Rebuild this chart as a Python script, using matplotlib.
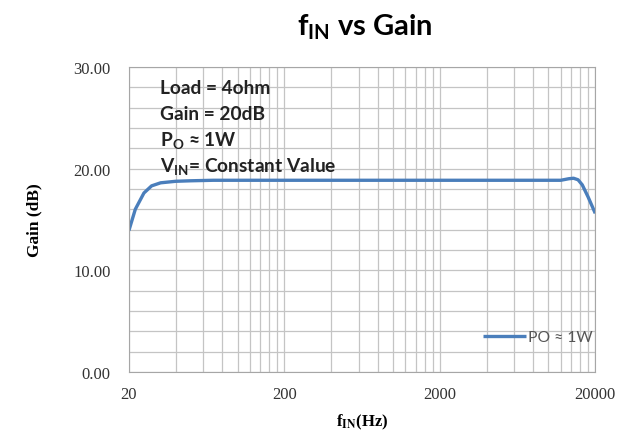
import matplotlib
matplotlib.use("Agg")
import matplotlib.pyplot as plt
from matplotlib.ticker import FixedLocator, NullFormatter

# data
freq = [20, 22, 25, 28, 32, 40, 50, 70, 100, 200, 500, 1000, 2000, 5000,
        10000, 12000, 13500, 14500, 15500, 16500, 18000, 20000]
gain = [13.9, 16.0, 17.6, 18.3, 18.6, 18.75, 18.8, 18.85, 18.85, 18.85,
        18.85, 18.85, 18.85, 18.85, 18.85, 18.85, 19.0, 19.05, 18.9,
        18.4, 17.2, 15.6]
xticks = [20, 200, 2000, 20000]
xtick_labels = ["20", "200", "2000", "20000"]
yticks = [0, 10, 20, 30]
notes = ["Load = 4ohm", "Gain = 20dB",
         r"P$_{\mathbf{O}}$ ≈ 1W", r"V$_{\mathbf{IN}}$= Constant Value"]

plt.rcParams["mathtext.fontset"] = "custom"
plt.rcParams["mathtext.rm"] = "Lato"
plt.rcParams["mathtext.bf"] = "Lato:bold"

fig = plt.figure(figsize=(6.38, 4.35), dpi=100)
ax = fig.add_axes([0.202, 0.1425, 0.731, 0.7015])

ax.plot(freq, gain, color="#4a7ebb", lw=2.4, label="PO ≈ 1W",
        solid_capstyle="butt")

ax.set_xscale("log")
ax.set_xlim(20, 20000)
ax.set_ylim(0, 30)

minor = [20 * 10 ** d * k for d in range(3) for k in range(2, 10)]
ax.xaxis.set_major_locator(FixedLocator(xticks))
ax.xaxis.set_minor_locator(FixedLocator(minor))
ax.xaxis.set_minor_formatter(NullFormatter())
ax.set_xticklabels(xtick_labels)
ax.set_yticks(yticks)
ax.set_yticklabels(["%.2f" % v for v in yticks])
ax.yaxis.set_minor_locator(FixedLocator(range(0, 31, 2)))

ax.grid(True, which="both", color="#c4c4c4", lw=0.9)
ax.set_axisbelow(True)
for s in ax.spines.values():
    s.set_color("#a6a6a6")
ax.tick_params(which="both", length=0)
ax.tick_params(axis="x", pad=10)
ax.tick_params(axis="y", pad=13)
for lab in ax.get_xticklabels() + ax.get_yticklabels():
    lab.set_family("Liberation Serif")
    lab.set_fontsize(12)
    lab.set_color("#333333")

ax.set_ylabel("Gain (dB)", family="Liberation Serif", fontweight="bold",
              fontsize=12.5, labelpad=22)
ax.set_xlabel(r"f$_{\mathbf{IN}}$(Hz)", family="Liberation Serif",
              fontweight="bold", fontsize=12, math_fontfamily="stix",
              labelpad=7)

fig.text(0.572, 0.937, r"f$_{\mathbf{IN}}$ vs Gain", ha="center", va="center",
         family="Lato", fontweight="bold", fontsize=21)

for i, t in enumerate(notes):
    ax.text(0.066, 0.934 - i * 0.087, t, transform=ax.transAxes,
            family="Lato", fontweight="bold", fontsize=13.8, va="center",
            color="#222222")

leg = ax.legend(loc="lower right", bbox_to_anchor=(1.025, 0.045), frameon=False,
                prop={"family": "Lato", "size": 11.3}, handlelength=2.7,
                handletextpad=0.15)
for t in leg.get_texts():
    t.set_color("#555555")

fig.savefig("out.png", dpi=100)
